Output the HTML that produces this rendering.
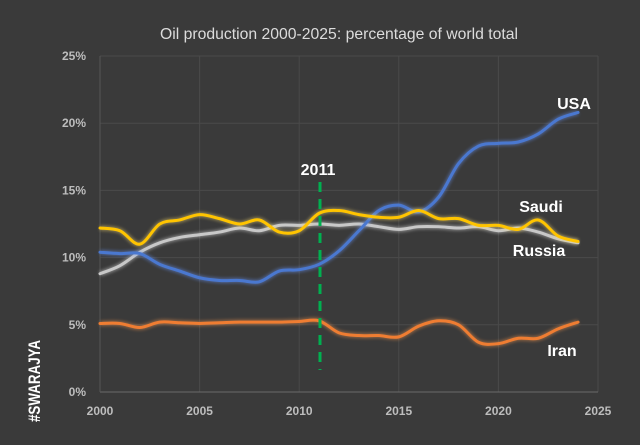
<!DOCTYPE html><html><head><style>body{margin:0;background:#3a3a3a;}svg{display:block}</style></head><body>
<svg id="s" width="640" height="445" xmlns="http://www.w3.org/2000/svg" font-family="Liberation Sans, sans-serif">
<rect width="640" height="445" fill="#3a3a3a"/>
<defs><filter id="g" x="-10%" y="-50%" width="120%" height="200%"><feGaussianBlur stdDeviation="1.6"/></filter></defs>
<g id="grid" stroke="#4a4a4a" stroke-width="1"></g>
<line x1="100" y1="392" x2="598" y2="392" stroke="#6a6a6a"/>
<line x1="100" y1="56" x2="100" y2="392" stroke="#555"/>
<text x="339" y="39" fill="#dcdcdc" font-size="16" text-anchor="middle" textLength="358" lengthAdjust="spacingAndGlyphs">Oil production 2000-2025: percentage of world total</text>
<g id="ylab" fill="#bdbdbd" font-size="12" font-weight="bold" text-anchor="end"></g>
<g id="xlab" fill="#bdbdbd" font-size="12" font-weight="bold" text-anchor="middle"></g>
<g id="lines"></g>
<line x1="320" y1="182" x2="320" y2="370" stroke="#00b050" stroke-width="3" stroke-dasharray="10,7"/>
<text x="318" y="175" fill="#fff" font-size="16" font-weight="bold" text-anchor="middle">2011</text>
<text x="574" y="109" fill="#fff" font-size="16" font-weight="bold" text-anchor="middle">USA</text>
<text x="541" y="212" fill="#fff" font-size="16" font-weight="bold" text-anchor="middle">Saudi</text>
<text x="539" y="256" fill="#fff" font-size="16" font-weight="bold" text-anchor="middle">Russia</text>
<text x="562" y="356" fill="#fff" font-size="16" font-weight="bold" text-anchor="middle">Iran</text>
<text transform="translate(40,422) rotate(-90)" fill="#fff" font-size="17" font-weight="bold" textLength="82" lengthAdjust="spacingAndGlyphs">#SWARAJYA</text>
</svg>
<script>
var X=function(y){return 100+(y-2000)*19.92},Y=function(v){return 392-v*13.44};
var ns="http://www.w3.org/2000/svg";
function el(p,t,a,txt){var e=document.createElementNS(ns,t);for(var k in a)e.setAttribute(k,a[k]);if(txt)e.textContent=txt;document.getElementById(p).appendChild(e);}
for(var i=1;i<=5;i++)el("grid","line",{x1:100,x2:598,y1:Y(i*5),y2:Y(i*5)});
for(var i=1;i<=5;i++)el("grid","line",{x1:X(2000+i*5),x2:X(2000+i*5),y1:56,y2:392});
for(var i=0;i<=5;i++){el("ylab","text",{x:86,y:Y(i*5)+4},i*5+"%");el("xlab","text",{x:X(2000+i*5),y:415},2000+i*5+"");}
var D={
usa:[10.4,10.3,10.3,9.5,9.0,8.5,8.3,8.3,8.2,9.0,9.1,9.5,10.5,12.0,13.5,13.9,13.4,14.5,17.0,18.3,18.5,18.6,19.2,20.3,20.8],
rus:[8.8,9.4,10.4,11.1,11.5,11.7,11.9,12.2,12.0,12.4,12.4,12.5,12.4,12.5,12.3,12.1,12.3,12.3,12.2,12.3,12.0,12.2,11.9,11.4,11.1],
sau:[12.2,12.0,11.0,12.5,12.8,13.2,12.9,12.5,12.8,11.9,12.0,13.3,13.5,13.2,13.0,13.0,13.5,12.9,12.9,12.4,12.4,12.1,12.8,11.6,11.2],
ira:[5.1,5.1,4.8,5.2,5.15,5.1,5.15,5.2,5.2,5.2,5.25,5.3,4.4,4.2,4.2,4.1,4.9,5.3,5.0,3.7,3.6,4.0,4.0,4.7,5.2]};
function path(a){var p=a.map(function(v,i){return[X(2000+i),Y(v)]});var d="M"+p[0];for(var i=0;i<p.length-1;i++){var p0=p[i-1]||p[i],p1=p[i],p2=p[i+1],p3=p[i+2]||p2;d+="C"+(p1[0]+(p2[0]-p0[0])/6)+","+(p1[1]+(p2[1]-p0[1])/6)+" "+(p2[0]-(p3[0]-p1[0])/6)+","+(p2[1]-(p3[1]-p1[1])/6)+" "+p2;}return d;}
[["rus","#c8c8c8","#eee"],["usa","#4a78d0","#6a98ff"],["ira","#ef7d32","#ff9a50"],["sau","#ffc400","#ffe070"]].forEach(function(s){
el("lines","path",{d:path(D[s[0]]),fill:"none",stroke:s[2],"stroke-width":5,opacity:0.45,filter:"url(#g)"});
el("lines","path",{d:path(D[s[0]]),fill:"none",stroke:s[1],"stroke-width":3,"stroke-linecap":"round"});});
</script>
</body></html>
